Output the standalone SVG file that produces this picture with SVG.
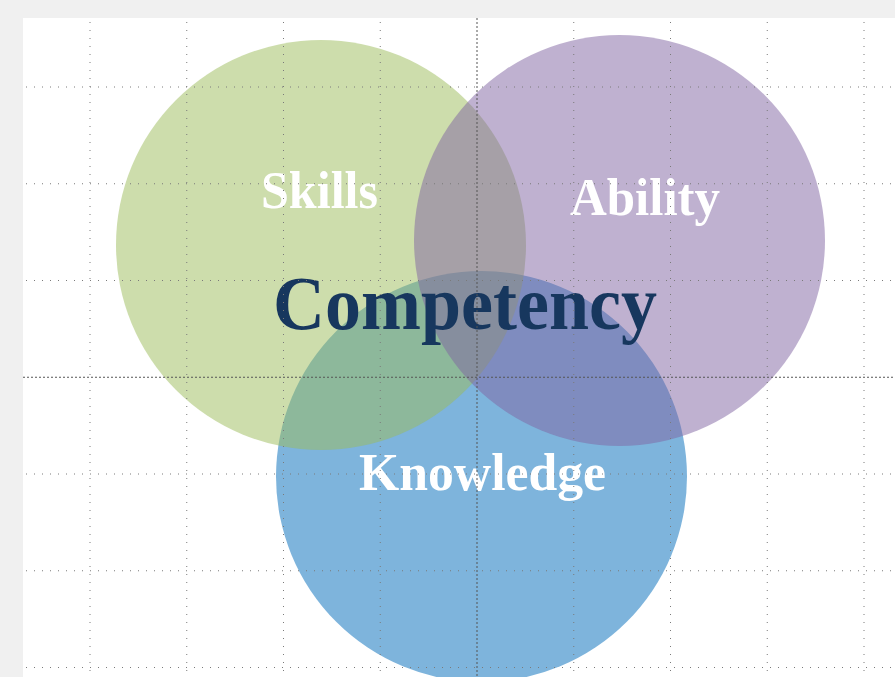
<svg xmlns="http://www.w3.org/2000/svg" width="895" height="677" viewBox="0 0 895 677">
<style>
.lbl{font-family:"Liberation Serif","Times New Roman",serif;font-weight:bold;fill:#ffffff;text-anchor:middle}
.main{font-family:"Liberation Serif","Times New Roman",serif;font-weight:bold;fill:#17375e;text-anchor:middle}
.g{stroke:#7a7a7a;stroke-width:1;stroke-dasharray:1 7;fill:none}
.gc{stroke:#555555;stroke-width:1;stroke-dasharray:2 2;fill:none}
</style>
<rect x="0" y="0" width="895" height="677" fill="#f0f0f0"/>
<rect x="23" y="18" width="872" height="659" fill="#ffffff"/>
<g id="knowledge">
<circle cx="481.5" cy="476.5" r="205.5" fill="#7eb4dc"/>
</g>
<g id="skills">
<circle cx="321" cy="245" r="205" fill="#9bbb59" fill-opacity="0.5"/>
</g>
<g id="ability">
<circle cx="619.5" cy="240.5" r="205.5" fill="#8064a2" fill-opacity="0.5"/>
</g>
<g id="labels">
<text class="lbl" x="319.5" y="208" font-size="52" textLength="117" lengthAdjust="spacingAndGlyphs">Skills</text>
<text class="lbl" x="645" y="215" font-size="52" textLength="150" lengthAdjust="spacingAndGlyphs">Ability</text>
<text class="lbl" x="482.5" y="490" font-size="52" textLength="247" lengthAdjust="spacingAndGlyphs">Knowledge</text>
<text class="main" x="465" y="329" font-size="76" textLength="384" lengthAdjust="spacingAndGlyphs">Competency</text>
</g>
<g id="grid">
<path class="g" d="M90 22V677M186.75 22V677M283.5 22V677M380.25 22V677M573.75 22V677M670.5 22V677M767.25 22V677M864 22V677"/>
<path class="g" d="M26 87H895M26 183.75H895M26 280.5H895M26 474H895M26 570.75H895M26 667.5H895"/>
<path class="gc" d="M477 18V677M23 377.25H895"/>
</g>
</svg>
